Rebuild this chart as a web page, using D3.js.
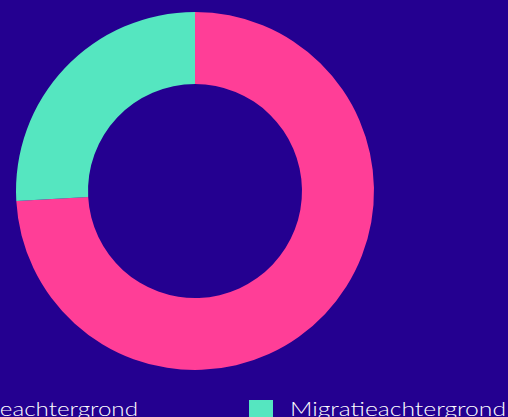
<!DOCTYPE html>
<html><head><meta charset="utf-8">
<script src="https://cdn.jsdelivr.net/npm/d3@7"></script>
<style>html,body{margin:0;padding:0;background:#240090;overflow:hidden;}</style>
</head><body>
<svg id="c" width="508" height="417"></svg>
<script>
const categories = ["Geen migratieachtergrond", "Migratieachtergrond"];
const values = [74.1, 25.9];
const colors = ["#ff3e97", "#55e6c0"];

const svg = d3.select("#c");
svg.append("rect").attr("width",508).attr("height",417).attr("fill","#240090");
const cx = 195, cy = 191, outerR = 179, innerR = 107;
const pie = d3.pie().sort(null).value(d => d)(values);
const arc = d3.arc().innerRadius(innerR).outerRadius(outerR);
const g = svg.append("g").attr("transform", `translate(${cx},${cy})`);
g.selectAll("path").data(pie).join("path")
  .attr("d", arc).attr("fill", (d,i) => colors[i]);

const font = "'Century Gothic', 'URW Gothic', Lato, 'DejaVu Sans', sans-serif";
// legend
const leg = svg.append("g");
// left item (mostly off-screen)
leg.append("rect").attr("x", -176).attr("y", 400).attr("width", 24).attr("height", 18).attr("fill", colors[0]);
leg.append("text").attr("x", 138).attr("y", 416).attr("text-anchor","end")
  .attr("font-family", font).attr("font-size", 20).attr("font-weight", 300).attr("fill", "#ffffff")
  .attr("textLength", 272).attr("lengthAdjust","spacingAndGlyphs")
  .text(categories[0]);
leg.append("rect").attr("x", 249).attr("y", 400).attr("width", 24).attr("height", 18).attr("fill", colors[1]);
leg.append("text").attr("x", 290).attr("y", 416)
  .attr("font-family", font).attr("font-size", 20).attr("font-weight", 300).attr("fill", "#ffffff")
  .attr("textLength", 216).attr("lengthAdjust","spacingAndGlyphs")
  .text(categories[1]);
</script>
</body></html>
